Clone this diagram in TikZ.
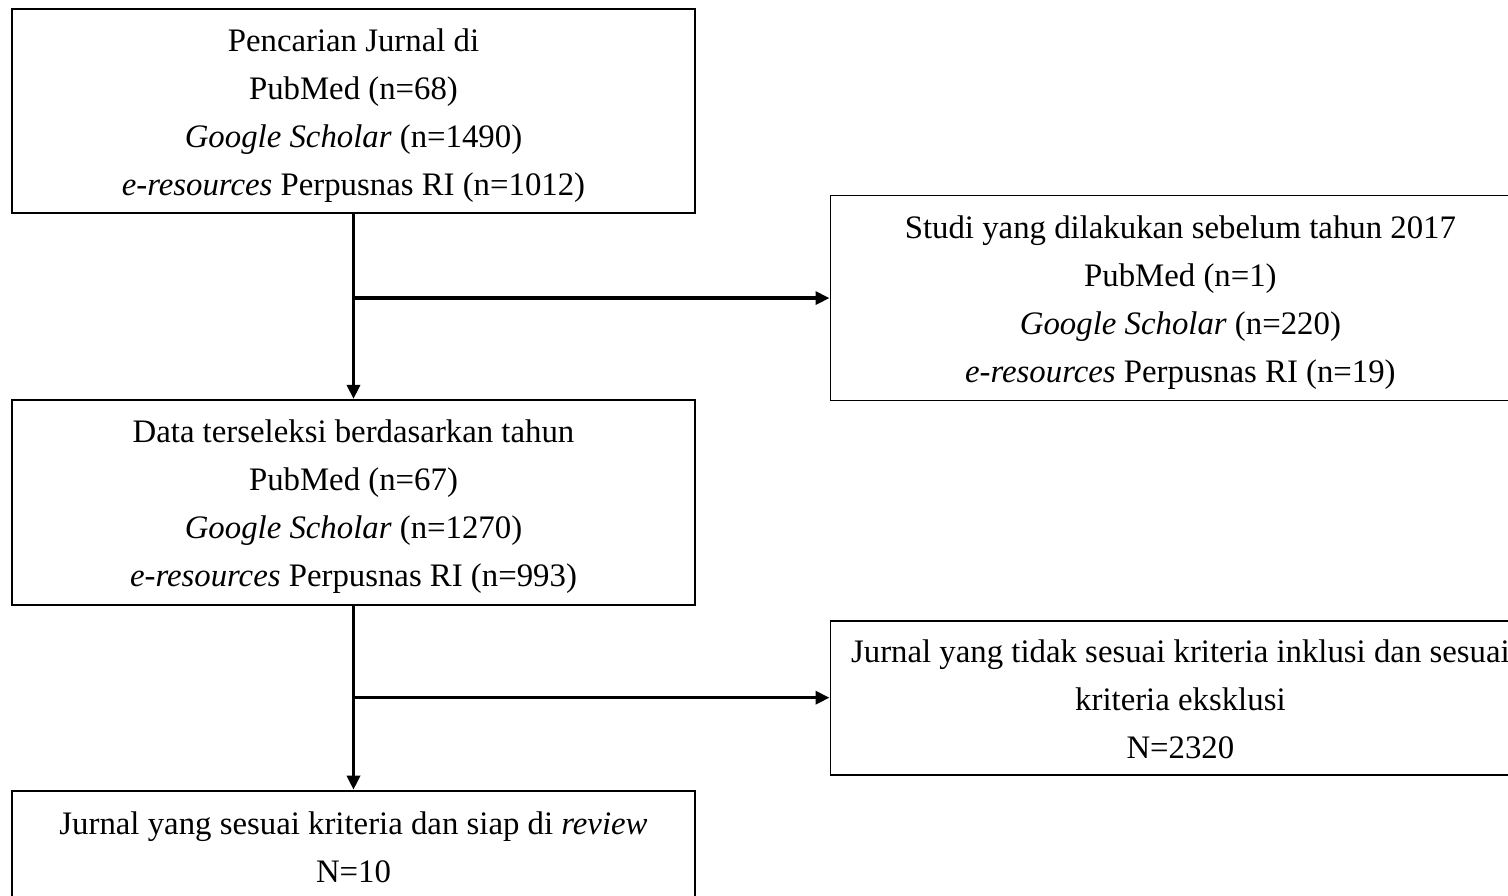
\documentclass[tikz,border=0pt]{standalone}
\usepackage{fontspec}
\setmainfont{Liberation Serif}
\usepackage{tikz}
\usetikzlibrary{arrows.meta, positioning, calc}
\newcommand{\boxtop}{\rule{0pt}{33pt}}
\newcommand{\boxbot}{\rule[-8pt]{0pt}{8pt}}
\tikzstyle{block} = [rectangle, draw, line width=1.8pt, align=center,
    minimum width=683pt, font=\fontsize{32.8}{48}\selectfont]
\tikzstyle{exclude} = [block, minimum width=700pt]
\tikzstyle{line} = [draw, line width=3.3pt, -{Triangle[length=14pt,width=13pt]}]

\begin{document}
\begin{tikzpicture}[node distance = 185pt, auto]
      \clip (0pt,0pt) rectangle (1508pt,-896pt);
      % left column
      \node [block, minimum height=204pt] (search) at (353.5pt,-111pt)
        {\boxtop Pencarian Jurnal di\\PubMed (n=68)\\\textit{Google Scholar} (n=1490)\\\textit{e-resources} Perpusnas RI (n=1012)\boxbot};
      \node [block, minimum height=205pt, below=of search] (selected)
        {\boxtop Data terseleksi berdasarkan tahun\\PubMed (n=67)\\\textit{Google Scholar} (n=1270)\\\textit{e-resources} Perpusnas RI (n=993)\boxbot};
      \node [block, minimum height=110pt, below=184pt of selected] (review)
        {\boxtop Jurnal yang sesuai kriteria dan siap di \textit{review}\\N=10\boxbot};
      % split points
      \coordinate (split1) at ($(search.south)!0.455!(selected.north)$);
      \coordinate (split2) at ($(selected.south)!0.5!(review.north)$);
      % right column
      \node [exclude, minimum height=205pt, right=476pt of split1] (before2017)
        {\boxtop Studi yang dilakukan sebelum tahun 2017\\PubMed (n=1)\\\textit{Google Scholar} (n=220)\\\textit{e-resources} Perpusnas RI (n=19)\boxbot};
      \node [exclude, minimum height=154pt, right=476pt of split2] (excluded)
        {\boxtop Jurnal yang tidak sesuai kriteria inklusi dan sesuai\\kriteria eksklusi\\N=2320\boxbot};
      % Draw edges
      \path [line] (search) -- (selected);
      \path [line] (selected) -- (review);
      \path [line] (split1) -- (split1 -| before2017.west);
      \path [line] (split2) -- (split2 -| excluded.west);
  \end{tikzpicture}
\end{document}
